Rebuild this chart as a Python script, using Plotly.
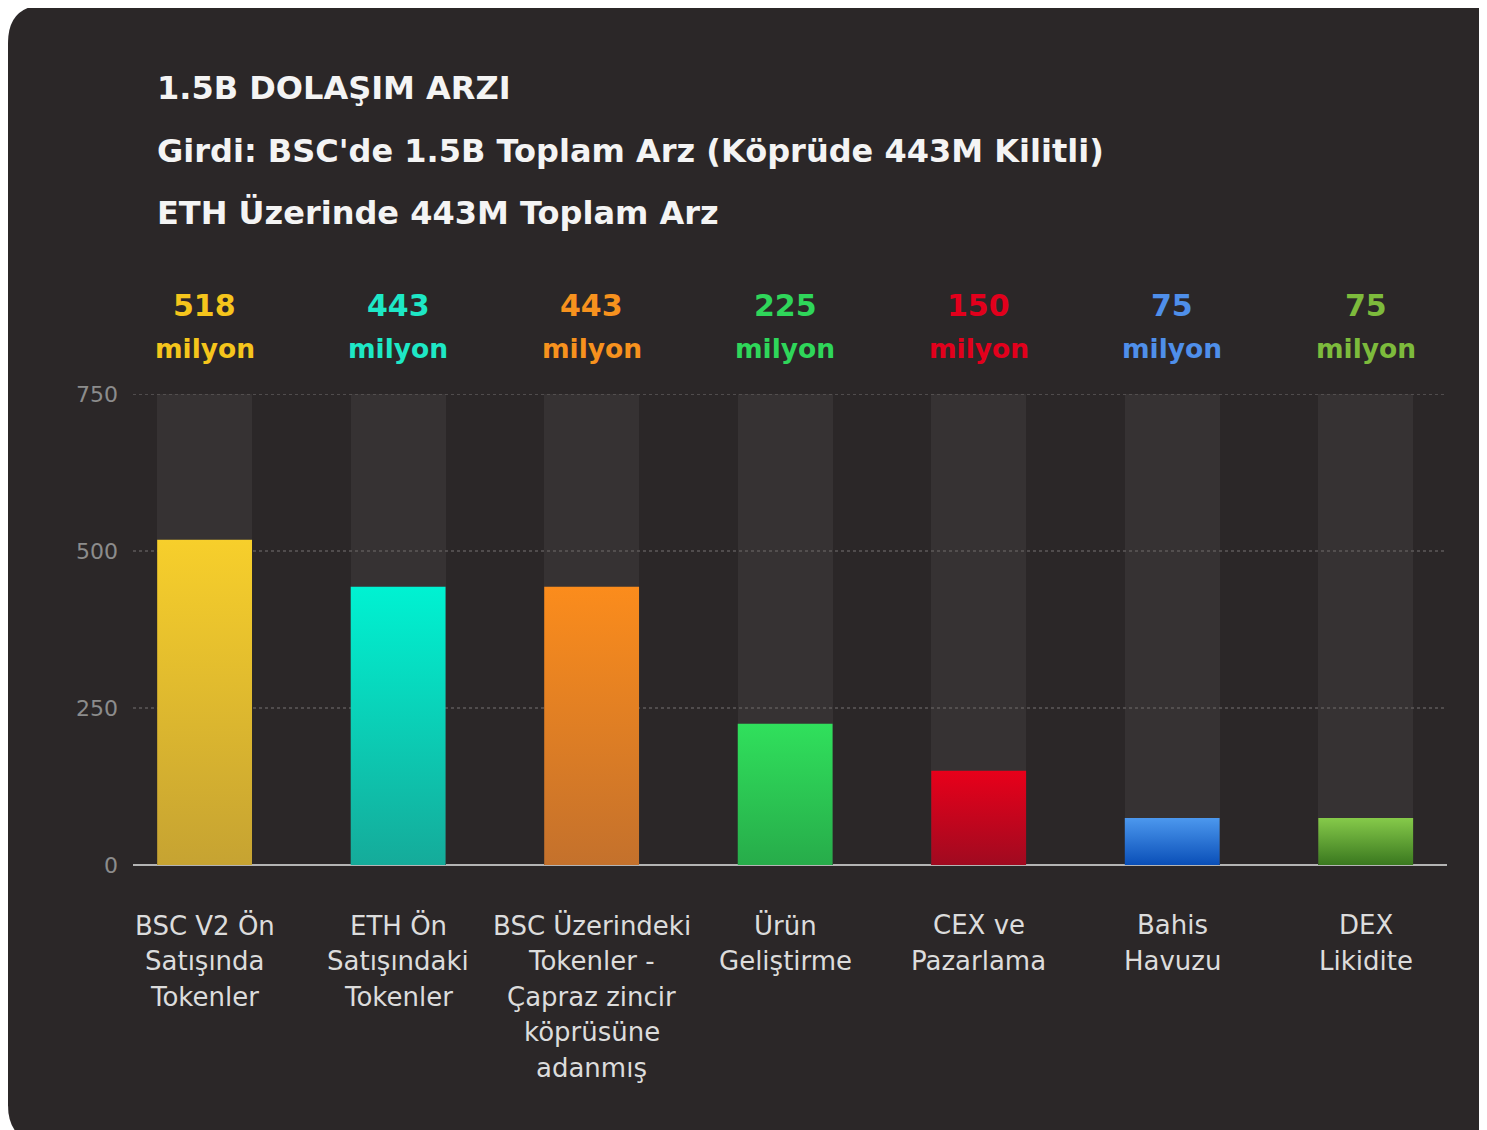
import plotly.graph_objects as go

# ---- data ----
categories = [
    ["BSC V2 Ön", "Satışında", "Tokenler"],
    ["ETH Ön", "Satışındaki", "Tokenler"],
    ["BSC Üzerindeki", "Tokenler -", "Çapraz zincir", "köprüsüne", "adanmış"],
    ["Ürün", "Geliştirme"],
    ["CEX ve", "Pazarlama"],
    ["Bahis", "Havuzu"],
    ["DEX", "Likidite"],
]
values = [518, 443, 443, 225, 150, 75, 75]
value_labels = ["518", "443", "443", "225", "150", "75", "75"]
unit_label = "milyon"
label_colors = ["#f5c51c", "#1ee8c6", "#f7921e", "#2fd65a", "#e2001c", "#4f8fea", "#7dbb3c"]
top_colors = ["#f7cf2b", "#00f2d2", "#fb8c1c", "#30e05c", "#e8001a", "#4c98ee", "#86ca4a"]
bottom_colors = ["#c6a332", "#15ab9a", "#c4712c", "#27ac4a", "#a00a20", "#0a4fb8", "#3a781f"]
y_max = 750
y_ticks = [0, 250, 500, 750]
title_lines = [
    "1.5B DOLAŞIM ARZI",
    "Girdi: BSC'de 1.5B Toplam Arz (Köprüde 443M Kilitli)",
    "ETH Üzerinde 443M Toplam Arz",
]

# ---- layout geometry (page pixels; page has an 8px body margin) ----
OFF = 8
W, H = 1487 - OFF, 1130 - OFF
PL, PR, PT, PB = 133, 1447, 394, 865          # plot area in page pixels
pw, ph = PR - PL, PB - PT
BAR_W = 0.49
X_RANGE = [-0.37, 6.42]

def px_x(p):
    return (p - PL) / pw

def px_y(p):
    return (PB - p) / ph

PANEL = "#2b2728"
BG_BAR = "#363233"
FONT = "DejaVu Sans"

fig = go.Figure()
idx = list(range(len(values)))

# background (full-scale) bars
fig.add_trace(go.Bar(
    x=idx, y=[y_max] * len(values), width=BAR_W,
    marker=dict(color=BG_BAR, line=dict(width=0)),
    hoverinfo="skip", showlegend=False,
))

# dotted gridlines (above the background bars, below the value bars)
for t in y_ticks[1:]:
    fig.add_trace(go.Scatter(
        x=X_RANGE, y=[t, t], mode="lines",
        line=dict(color="#5e5a5a", width=1.5, dash="dot"),
        hoverinfo="skip", showlegend=False,
    ))

# value bars with vertical gradient
for i, v in enumerate(values):
    x0, x1 = i - BAR_W / 2, i + BAR_W / 2
    fig.add_trace(go.Scatter(
        x=[x0, x1, x1, x0, x0], y=[0, 0, v, v, 0],
        mode="lines", fill="toself",
        line=dict(width=0, color=top_colors[i]),
        fillcolor=top_colors[i],
        fillgradient=dict(type="vertical",
                          colorscale=[[0, bottom_colors[i]], [1, top_colors[i]]]),
        hoverinfo="skip", showlegend=False,
    ))

# rounded dark panel
x0p, y0p, x1p, y1p, r = 8, 5, 1508, 1143, 38
def P(x, y):
    return f"{px_x(x):.5f},{px_y(y):.5f}"
path = (f"M {P(x0p + r, y0p)} L {P(x1p - r, y0p)} Q {P(x1p, y0p)} {P(x1p, y0p + r)} "
        f"L {P(x1p, y1p - r)} Q {P(x1p, y1p)} {P(x1p - r, y1p)} "
        f"L {P(x0p + r, y1p)} Q {P(x0p, y1p)} {P(x0p, y1p - r)} "
        f"L {P(x0p, y0p + r)} Q {P(x0p, y0p)} {P(x0p + r, y0p)} Z")
fig.add_shape(type="path", path=path, xref="paper", yref="paper",
              fillcolor=PANEL, line=dict(width=0), layer="below")

annotations = []
for t, py in zip(title_lines, [88, 151, 213]):
    annotations.append(dict(
        text=f"<b>{t}</b>", x=px_x(155), y=px_y(py), xref="paper", yref="paper",
        xanchor="left", yanchor="middle", showarrow=False,
        font=dict(family=FONT, size=32, color="#f4f4f4"),
    ))
for i in idx:
    annotations.append(dict(
        text=f"<b>{value_labels[i]}</b>", x=i, y=px_y(305), xref="x", yref="paper",
        xanchor="center", yanchor="middle", showarrow=False,
        font=dict(family=FONT, size=30, color=label_colors[i]),
    ))
    annotations.append(dict(
        text=f"<b>{unit_label}</b>", x=i, y=px_y(348), xref="x", yref="paper",
        xanchor="center", yanchor="middle", showarrow=False,
        font=dict(family=FONT, size=26.5, color=label_colors[i]),
    ))
    for j, line in enumerate(categories[i]):
        annotations.append(dict(
            text=line, x=i, y=px_y(925 + 35.8 * j), xref="x", yref="paper",
            xanchor="center", yanchor="middle", showarrow=False,
            font=dict(family=FONT, size=26, color="#dcdcdc"),
        ))

fig.update_layout(
    width=W, height=H,
    margin=dict(l=PL - OFF, r=W - (PR - OFF), t=PT - OFF, b=H - (PB - OFF), pad=0),
    paper_bgcolor="#ffffff",
    plot_bgcolor="rgba(0,0,0,0)",
    showlegend=False,
    bargap=0,
    annotations=annotations,
    xaxis=dict(range=X_RANGE, showgrid=False, zeroline=False, showticklabels=False,
               showline=False, fixedrange=True),
    yaxis=dict(range=[0, y_max], tickvals=y_ticks, showgrid=False,
               zeroline=True, zerolinecolor="#b4b4b4", zerolinewidth=1.5,
               layer="above traces",
               showline=False, ticks="", ticklabelstandoff=14,
               tickfont=dict(family=FONT, size=22, color="#8c8c8c"),
               fixedrange=True),
)

fig.write_html("out.html")
